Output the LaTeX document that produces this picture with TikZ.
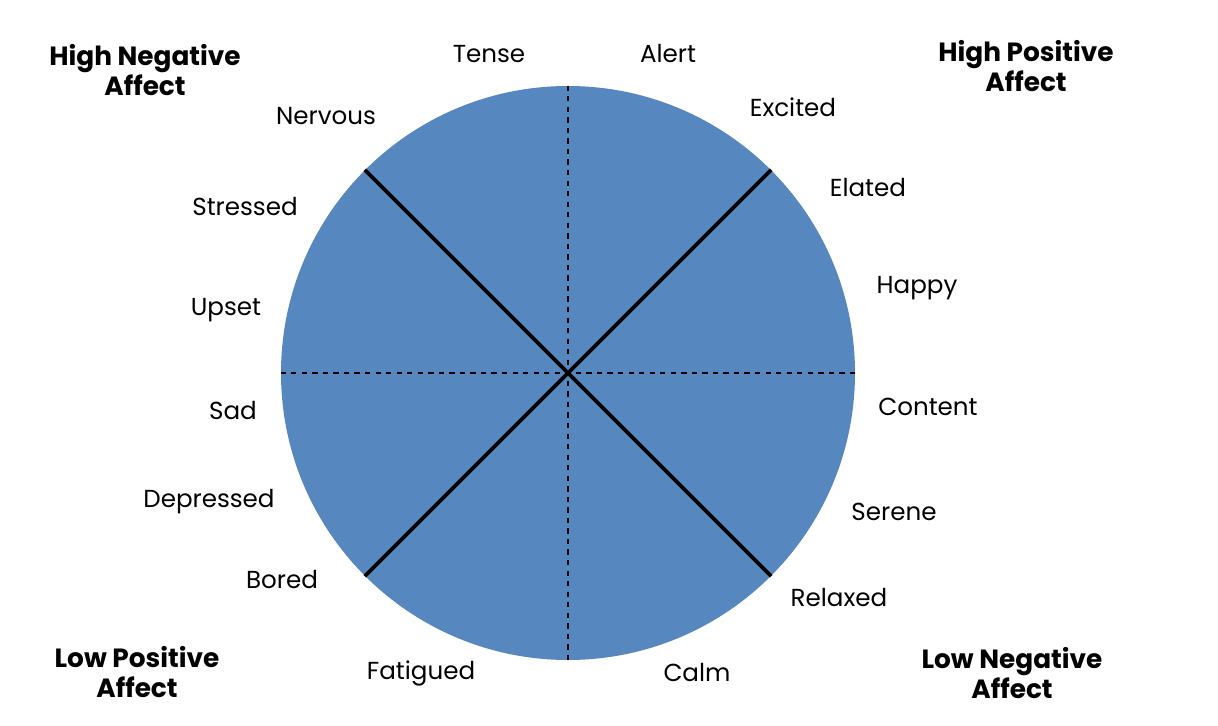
\documentclass[tikz,border=0pt]{standalone}
\usepackage{fontspec}
\setmainfont{Poppins}
\definecolor{wheelblue}{HTML}{5687BE}
\tikzset{mood/.style={font=\fontsize{14}{16}\selectfont},
  quad/.style={font=\bfseries\fontsize{15}{17}\selectfont, align=center}}
\begin{document}
\begin{tikzpicture}[x=0.02cm, y=-0.02cm]
\useasboundingbox (0,0) rectangle (1218,726);
\node[circle, fill=wheelblue, minimum size=574*0.02cm, inner sep=0] (wheel) at (568,373) {};
\coordinate (c) at (568,373);
\draw[line width=2.2pt] (wheel.north west) -- (wheel.south east);
\draw[line width=2.2pt] (wheel.north east) -- (wheel.south west);
\draw[line width=1pt, dashed] (wheel.north) -- (wheel.south);
\draw[line width=1pt, dashed] (wheel.west) -- (wheel.east);
\node[mood] (tense) at (489,54) {Tense};
\node[mood] (alert) at (668,54) {Alert};
\node[mood] (excited) at (793,107) {Excited};
\node[mood] (elated) at (868,188) {Elated};
\node[mood] (happy) at (917,288) {Happy};
\node[mood] (content) at (928,407) {Content};
\node[mood] (serene) at (894,512) {Serene};
\node[mood] (relaxed) at (839,598) {Relaxed};
\node[mood] (calm) at (697,673) {Calm};
\node[mood] (fatigued) at (421,673) {Fatigued};
\node[mood] (bored) at (282,580) {Bored};
\node[mood] (depressed) at (209,502) {Depressed};
\node[mood] (sad) at (233,411) {Sad};
\node[mood] (upset) at (226,310) {Upset};
\node[mood] (stressed) at (245,207) {Stressed};
\node[mood] (nervous) at (326,116) {Nervous};
\node[quad] (hineg) at (145,70) {High Negative\\Affect};
\node[quad] (hipos) at (1026,66) {High Positive\\Affect};
\node[quad] (lopos) at (137,672) {Low Positive\\Affect};
\node[quad] (loneg) at (1012,673) {Low Negative\\Affect};
\end{tikzpicture}
\end{document}
